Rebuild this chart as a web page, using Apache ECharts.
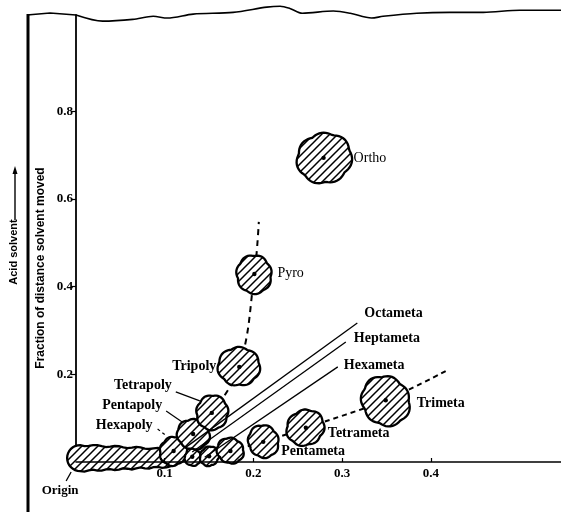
<!DOCTYPE html>
<html><head><meta charset="utf-8">
<script src="https://cdn.jsdelivr.net/npm/echarts@6/dist/echarts.min.js"></script>
<style>html,body{margin:0;padding:0;background:#fff}#c{width:561px;height:512px}</style>
</head><body><div id="c"></div>
<script>
// ---------- data (Rf values) ----------
const spotNames  = ['', '', '', 'Hexapoly', 'Pentapoly', 'Tetrapoly', 'Tripoly', 'Pyro', 'Ortho', 'Pentameta', 'Tetrameta', 'Trimeta'];
const spotRfX    = [0.131, 0.150, 0.174, 0.110, 0.132, 0.153, 0.184, 0.201, 0.279, 0.211, 0.259, 0.349];
const spotRfY    = [0.012, 0.013, 0.025, 0.025, 0.064, 0.112, 0.217, 0.429, 0.694, 0.046, 0.078, 0.141];
const spotRadius = [0.010, 0.011, 0.015, 0.016, 0.018, 0.019, 0.023, 0.021, 0.030, 0.018, 0.021, 0.028];
const polyTrackX = [0.153, 0.184, 0.201, 0.206];
const polyTrackY = [0.112, 0.217, 0.429, 0.548];
const metaTrackX = [0.174, 0.211, 0.259, 0.349, 0.419];
const metaTrackY = [0.025, 0.046, 0.078, 0.141, 0.210];
const metaLineNames = ['Octameta', 'Heptameta', 'Hexameta'];
const metaLineStartX = [0.124, 0.131, 0.145];
const metaLineStartY = [0.034, 0.023, 0.011];
const metaLineEndX   = [0.317, 0.304, 0.295];
const metaLineEndY   = [0.317, 0.274, 0.217];
const originStreakX = [-0.010, 0.112];
const originStreakY = [0.009];
const solventFrontX = [0, 0.030, 0.064, 0.087, 0.103, 0.132, 0.177, 0.215, 0.230, 0.241, 0.255, 0.290, 0.309, 0.333, 0.346, 0.384, 0.421, 0.459, 0.500, 0.5465];
const solventFrontY = [1.020, 1.006, 1.010, 1.017, 1.013, 1.022, 1.026, 1.038, 1.040, 1.035, 1.024, 1.029, 1.024, 1.013, 1.017, 1.024, 1.026, 1.026, 1.031, 1.031];
const xTickLabels = ['0.1', '0.2', '0.3', '0.4'];
const yTickLabels = ['0.2', '0.4', '0.6', '0.8'];

// ---------- styles ----------
const SERIF = 'Liberation Serif';
const SANS = 'Liberation Sans';
const spotLabelStyle = {
  Ortho:     {dx: 30, dy: 0,  align: 'left',  weight: 'normal'},
  Pyro:      {dx: 23, dy: -1, align: 'left',  weight: 'normal'},
  Tripoly:   {dx: -23, dy: -1, align: 'right'},
  Tetrapoly: {dx: -40, dy: -28, align: 'right', leader: [-36, -21, -12, -12]},
  Pentapoly: {dx: -31, dy: -29, align: 'right', leader: [-27, -23, -11, -12]},
  Hexapoly:  {dx: -21, dy: -26, align: 'right', leader: [-16, -22, -7, -15], dashed: true},
  Pentameta: {dx: 18, dy: 10, align: 'left'},
  Tetrameta: {dx: 22, dy: 6, align: 'left'},
  Trimeta:   {dx: 31, dy: 3, align: 'left'}
};
const metaLabelOffset = [[3, -10], [4, -4], [2, -2]];

function makeHatch() {
  const s = 8;
  const cv = document.createElement('canvas');
  cv.width = s; cv.height = s;
  const g = cv.getContext('2d');
  g.fillStyle = '#fff'; g.fillRect(0, 0, s, s);
  g.strokeStyle = '#000'; g.lineWidth = 1.5;
  g.beginPath();
  g.moveTo(-1, s + 1); g.lineTo(s + 1, -1);
  g.moveTo(-1, 1); g.lineTo(1, -1);
  g.moveTo(s - 1, s + 1); g.lineTo(s + 1, s - 1);
  g.stroke();
  return cv;
}
const hatch = {image: makeHatch(), repeat: 'repeat'};

const chart = echarts.init(document.getElementById('c'), null, {renderer: 'canvas'});

const spotData = spotRfX.map((x, i) => [x, spotRfY[i], spotRadius[i], i]);

function renderSpot(params, api) {
  const i = api.value(3);
  const c = api.coord([api.value(0), api.value(1)]);
  const r = api.size([api.value(2), 0])[0];
  const ph = i * 1.7;
  const pts = [];
  const N = 72;
  for (let k = 0; k < N; k++) {
    const t = k / N * Math.PI * 2;
    const rr = r * (0.93 + 0.08 * Math.abs(Math.sin(3.5 * t + ph)) + 0.05 * Math.sin(2 * t + 2 * ph) + 0.03 * Math.sin(t + ph));
    pts.push([c[0] + rr * Math.cos(t), c[1] + rr * Math.sin(t)]);
  }
  const children = [
    {type: 'polygon', shape: {points: pts}, style: {fill: hatch, stroke: '#000', lineWidth: 2.3}},
    {type: 'circle', shape: {cx: c[0], cy: c[1], r: 2.2}, style: {fill: '#000'}}
  ];
  const name = spotNames[i];
  const ls = spotLabelStyle[name];
  if (name && ls) {
    children.push({type: 'text', x: c[0] + ls.dx, y: c[1] + ls.dy, z2: 10,
      style: {text: name, fill: '#000', font: (ls.weight || 'bold') + ' 14px "' + SERIF + '"',
              align: ls.align, verticalAlign: 'middle'}});
    if (ls.leader) {
      const L = ls.leader;
      children.push({type: 'line', shape: {x1: c[0] + L[0], y1: c[1] + L[1], x2: c[0] + L[2], y2: c[1] + L[3]},
        style: {stroke: '#000', lineWidth: 1.2, lineDash: ls.dashed ? [3, 3] : null}});
    }
  }
  return {type: 'group', children};
}

function renderStreak(params, api) {
  const p0 = api.coord([originStreakX[0], originStreakY[0]]);
  const p1 = api.coord([originStreakX[1], originStreakY[0]]);
  const h0 = 13, h1 = 9;
  const pts = [];
  const xa = p0[0] + h0, xb = p1[0] - h1;
  const hh = f => h0 + (h1 - h0) * f;
  for (let k = 0; k <= 20; k++) {
    const f = k / 20;
    pts.push([xa + (xb - xa) * f, p0[1] - hh(f) + 0.8 * Math.sin(k * 1.3)]);
  }
  for (let k = 1; k < 16; k++) {
    const t = -Math.PI / 2 + Math.PI * k / 16;
    pts.push([xb + h1 * Math.cos(t), p1[1] + h1 * Math.sin(t)]);
  }
  for (let k = 20; k >= 0; k--) {
    const f = k / 20;
    pts.push([xa + (xb - xa) * f, p0[1] + hh(f) + 0.8 * Math.sin(k * 1.7)]);
  }
  for (let k = 1; k < 16; k++) {
    const t = Math.PI / 2 + Math.PI * k / 16;
    pts.push([xa + h0 * Math.cos(t), p0[1] + h0 * Math.sin(t)]);
  }
  return {type: 'group', children: [
    {type: 'polygon', shape: {points: pts}, style: {fill: hatch, stroke: '#000', lineWidth: 2.3}},
    {type: 'text', x: p0[0] - 7, y: p0[1] + 33, style: {text: 'Origin', fill: '#000', font: 'bold 13px "' + SERIF + '"', align: 'center', verticalAlign: 'middle'}},
    {type: 'line', shape: {x1: p0[0] - 1, y1: p0[1] + 23, x2: p0[0] + 4, y2: p0[1] + 14}, style: {stroke: '#000', lineWidth: 1.3}}
  ]};
}

const series = [
  {type: 'line', name: 'front', data: solventFrontX.map((x, i) => [x, solventFrontY[i]]), smooth: 0.3, clip: false,
   symbol: 'none', lineStyle: {color: '#000', width: 1.6}, z: 1, silent: true},
  {type: 'line', name: 'polyTrack', data: polyTrackX.map((x, i) => [x, polyTrackY[i]]), smooth: 0.4,
   symbol: 'none', lineStyle: {color: '#000', width: 2, type: [6, 5]}, z: 1, silent: true},
  {type: 'line', name: 'metaTrack', data: metaTrackX.map((x, i) => [x, metaTrackY[i]]), smooth: 0.3,
   symbol: 'none', lineStyle: {color: '#000', width: 2, type: [5, 4]}, z: 1, silent: true},
  {type: 'custom', name: 'origin', data: [[originStreakX[0], originStreakY[0]]], renderItem: renderStreak, clip: false, z: 2, silent: true},
  {type: 'custom', name: 'spots', data: spotData, renderItem: renderSpot, clip: false, z: 3, silent: true,
   encode: {x: 0, y: 1}}
];
metaLineNames.forEach((n, i) => {
  series.push({type: 'line', name: n, data: [[metaLineStartX[i], metaLineStartY[i]], [metaLineEndX[i], metaLineEndY[i]]],
    symbol: 'none', lineStyle: {color: '#000', width: 1.3}, z: 4, silent: true,
    endLabel: {show: true, formatter: '{a}', color: '#000', fontFamily: SERIF, fontWeight: 'bold', fontSize: 14,
      offset: metaLabelOffset[i], distance: 4}});
});

const option = {
  animation: false,
  backgroundColor: '#fff',
  grid: {left: 76, right: 0, top: 15, bottom: 50, containLabel: false},
  xAxis: {type: 'value', min: 0, max: 0.5465, z: 10,
    axisLine: {lineStyle: {color: '#000', width: 1.6}},
    axisTick: {inside: true, length: 4, lineStyle: {color: '#000', width: 1.2}, customValues: xTickLabels.map(Number)},
    axisLabel: {customValues: xTickLabels.map(Number), formatter: v => v.toFixed(1), margin: 5,
      color: '#000', fontFamily: SERIF, fontWeight: 'bold', fontSize: 13},
    splitLine: {show: false}},
  yAxis: {type: 'value', min: 0, max: 1.02,
    axisLine: {lineStyle: {color: '#000', width: 1.8}},
    axisTick: {inside: false, length: 5, lineStyle: {color: '#000', width: 1.2}, customValues: yTickLabels.map(Number)},
    axisLabel: {customValues: yTickLabels.map(Number), formatter: v => v.toFixed(1), margin: 3,
      color: '#000', fontFamily: SERIF, fontWeight: 'bold', fontSize: 13},
    splitLine: {show: false}},
  graphic: [
    {type: 'line', shape: {x1: 28, y1: 14, x2: 28, y2: 512}, style: {stroke: '#000', lineWidth: 3}},
    {type: 'polyline', shape: {points: [[27, 15], [50, 13], [76, 15]]}, style: {stroke: '#000', lineWidth: 1.6, fill: null}},
    {type: 'text', x: 41, y: 268, rotation: Math.PI / 2,
     style: {text: 'Fraction of distance solvent moved', fill: '#000', font: 'bold 12px "' + SANS + '"', align: 'center', verticalAlign: 'middle'}},
    {type: 'text', x: 14, y: 252, rotation: Math.PI / 2,
     style: {text: 'Acid solvent', fill: '#000', font: 'bold 11px "' + SANS + '"', align: 'center', verticalAlign: 'middle'}},
    {type: 'line', shape: {x1: 15, y1: 220, x2: 15, y2: 172}, style: {stroke: '#000', lineWidth: 1.4}},
    {type: 'polygon', shape: {points: [[15, 166], [12.5, 174], [17.5, 174]]}, style: {fill: '#000'}}
  ],
  series
};
chart.setOption(option);
</script>
</body></html>
